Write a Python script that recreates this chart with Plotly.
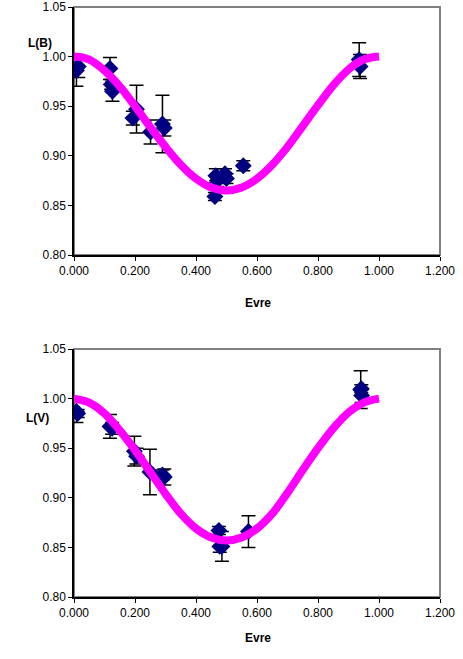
import plotly.graph_objects as go

# ---- Data: top panel L(B) ----
b_x = [0.008, 0.014, 0.118, 0.122, 0.126, 0.193, 0.205, 0.251, 0.290, 0.296,
       0.462, 0.465, 0.470, 0.495, 0.500, 0.555, 0.935, 0.938]
b_y = [0.986, 0.990, 0.988, 0.972, 0.965, 0.938, 0.947, 0.924, 0.932, 0.928,
       0.859, 0.880, 0.875, 0.882, 0.877, 0.890, 0.997, 0.990]
b_err = [0.016, 0.011, 0.011, 0.005, 0.010, 0.007, 0.024, 0.012, 0.029, 0.008,
         0.004, 0.007, 0.006, 0.005, 0.005, 0.005, 0.017, 0.012]

# ---- Data: bottom panel L(V) ----
v_x = [0.008, 0.012, 0.118, 0.125, 0.198, 0.205, 0.249, 0.290, 0.296,
       0.475, 0.478, 0.485, 0.572, 0.940, 0.942, 0.943]
v_y = [0.987, 0.985, 0.972, 0.970, 0.947, 0.942, 0.926, 0.923, 0.921,
       0.867, 0.851, 0.851, 0.866, 1.009, 1.010, 1.003]
v_err = [0.011, 0.004, 0.012, 0.006, 0.015, 0.008, 0.023, 0.005, 0.008,
         0.004, 0.006, 0.015, 0.016, 0.019, 0.004, 0.007]

# ---- Model curves ----
curve_x = [0.00, 0.05, 0.10, 0.15, 0.20, 0.25, 0.30, 0.35, 0.40, 0.45, 0.50,
           0.55, 0.60, 0.65, 0.70, 0.75, 0.80, 0.85, 0.90, 0.95, 1.00]
curve_b = [1.000, 0.997, 0.986, 0.970, 0.950, 0.929, 0.909, 0.891, 0.877, 0.868, 0.865,
           0.868, 0.877, 0.891, 0.909, 0.930, 0.951, 0.971, 0.987, 0.997, 1.000]
curve_v = [1.000, 0.996, 0.985, 0.968, 0.948, 0.926, 0.904, 0.884, 0.869, 0.860, 0.857,
           0.860, 0.869, 0.884, 0.905, 0.928, 0.950, 0.970, 0.986, 0.996, 1.000]

x_ticks = [0.0, 0.2, 0.4, 0.6, 0.8, 1.0, 1.2]
y_ticks = [0.80, 0.85, 0.90, 0.95, 1.00, 1.05]

W, H = 463, 659
FONT = "Liberation Sans, Arial, sans-serif"

fig = go.Figure()

def add_panel(xs, ys, errs, cy, xa, ya):
    fig.add_trace(go.Scatter(
        x=xs, y=ys, mode="markers", xaxis=xa, yaxis=ya,
        marker=dict(symbol="diamond", size=13, color="#000080"),
        error_y=dict(type="data", array=errs, visible=True,
                     color="black", thickness=1.5, width=7),
        showlegend=False, hoverinfo="skip"))
    fig.add_trace(go.Scatter(
        x=curve_x, y=cy, mode="lines", xaxis=xa, yaxis=ya,
        line=dict(color="#FF00FF", width=8, shape="spline"),
        showlegend=False, hoverinfo="skip"))

add_panel(b_x, b_y, b_err, curve_b, "x", "y")
add_panel(v_x, v_y, v_err, curve_v, "x2", "y2")

xdom = [74 / W, 440 / W]
top_dom = [(H - 255) / H, (H - 7) / H]
bot_dom = [(H - 597) / H, (H - 349) / H]

def xaxis(dom_anchor):
    return dict(domain=xdom, anchor=dom_anchor, range=[0, 1.2],
                tickvals=x_ticks, ticktext=[f"{t:.3f}" for t in x_ticks],
                showgrid=False, zeroline=False, showline=True, automargin=False,
                ticklabeloverflow="allow",
                linecolor="black", linewidth=1.5, ticks="outside",
                ticklen=4, tickcolor="black",
                tickfont=dict(family=FONT, size=12, color="black"))

def yaxis(dom, anchor):
    return dict(domain=dom, anchor=anchor, range=[0.80, 1.05],
                tickvals=y_ticks, ticktext=[f"{t:.2f}" for t in y_ticks],
                showgrid=False, zeroline=False, showline=True, automargin=False,
                ticklabeloverflow="allow",
                linecolor="black", linewidth=1.5, ticks="outside",
                ticklen=4, tickcolor="black",
                tickfont=dict(family=FONT, size=12, color="black"))

fig.update_layout(
    template="none",
    width=W, height=H, autosize=False,
    margin=dict(l=0, r=0, t=0, b=0, pad=0, autoexpand=False),
    paper_bgcolor="white", plot_bgcolor="white",
    xaxis=xaxis("y"), yaxis=yaxis(top_dom, "x"),
    xaxis2=xaxis("y2"), yaxis2=yaxis(bot_dom, "x2"),
    showlegend=False,
    font=dict(family=FONT, color="black"),
)

# gray plot-area border (top/right)
for xr, yr in [("x domain", "y domain"), ("x2 domain", "y2 domain")]:
    fig.add_shape(type="rect", xref=xr, yref=yr, x0=0, x1=1, y0=0, y1=1,
                  line=dict(color="#808080", width=2), layer="below")

ann = dict(showarrow=False, xref="paper", yref="paper",
           font=dict(family=FONT, size=12, color="black"))
fig.add_annotation(text="<b>L(B)</b>", x=26 / W, y=1 - 34 / H, **ann)
fig.add_annotation(text="<b>L(V)</b>", x=24 / W, y=1 - 418 / H, **ann)
fig.add_annotation(text="<b>Evre</b>", x=258 / W, y=1 - 303 / H, **ann)
fig.add_annotation(text="<b>Evre</b>", x=258 / W, y=1 - 647 / H, **ann)

fig.write_html("out.html")
